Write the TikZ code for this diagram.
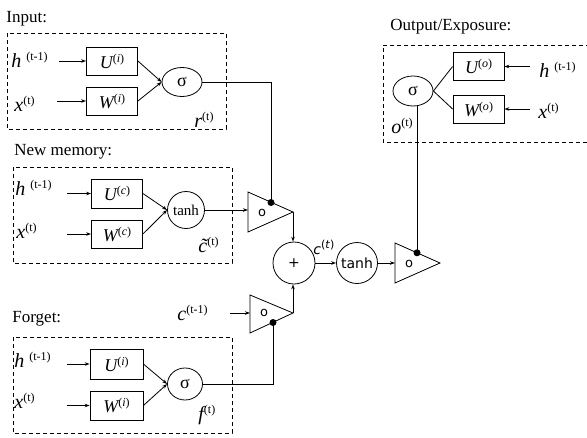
\documentclass[tikz,border=0pt]{standalone}
\usepackage{fontspec}
\setmainfont{Liberation Serif}
\newfontfamily\dvs{DejaVu Sans}
\usetikzlibrary{arrows.meta,shapes.geometric,calc}
\newcommand{\vsym}[2]{{\fontsize{20}{22}\selectfont\itshape #1}\raisebox{7pt}{\fontsize{12}{12}\selectfont #2}}
\newcommand{\wsym}[2]{{\fontsize{18}{20}\selectfont\itshape #1}\raisebox{6pt}{\fontsize{12}{12}\selectfont (\textit{#2})}}
\begin{document}
\begin{tikzpicture}[x=1pt,y=-1pt, line width=0.8pt,
 frame/.style={draw, dash pattern=on 4pt off 3pt, line width=0.9pt},
 wbox/.style={draw, rectangle, minimum width=51pt, minimum height=28pt, inner sep=0pt},
 gate/.style={draw, ellipse, inner sep=0pt, font=\fontsize{18}{18}\selectfont},
 tgate/.style={draw, circle, inner sep=0pt, font=\fontsize{15}{15}\selectfont},
 sgate/.style={draw, circle, inner sep=0pt, minimum size=41pt, font=\dvs\fontsize{14}{14}\selectfont},
 arr/.style={-{Stealth[length=5pt,width=3.5pt]}},
 txt/.style={inner sep=0pt, anchor=base west},
 title/.style={inner sep=0pt, anchor=base west, font=\fontsize{17}{19}\selectfont},
 dot/.style={fill, circle, inner sep=0pt, minimum size=7pt},
 olbl/.style={inner sep=0pt, font=\dvs\fontsize{13}{13}\selectfont},
 tri/.style={draw}
]
\useasboundingbox (0,0) rectangle (587,437);

% ---------- titles
\node[title] (lin) at (6,22) {Input:};
\node[title] (lmem) at (14,155) {New memory:};
\node[title] (lfor) at (12,322) {Forget:};
\node[title] (lout) at (390,30) {Output/Exposure:};

% ---------- dashed frames
\draw[frame] (7,33) rectangle (226,129);
\draw[frame] (13,167) rectangle (232,263);
\draw[frame] (13,337) rectangle (232,433);
\draw[frame] (590,45) -- (383,45) -- (383,142) -- (590,142);

% ---------- input gate
\node[txt] (h1) at (11,67) {\vsym{h}{\hspace{5pt}(t-1)}};
\node[txt] (x1) at (14,111) {\vsym{x}{(t)}};
\node[wbox] (U1) at (112,61) {\wsym{U}{i}};
\node[wbox] (W1) at (112,101) {\wsym{W}{i}};
\node[gate, minimum width=40pt, minimum height=29pt] (s1) at (182,82) {σ};
\node[txt] (rl) at (194,127) {\vsym{r}{(t)}};
\draw[arr] ($(U1.west)+(-27,0)$) -- (U1.west);
\draw[arr] ($(W1.west)+(-29,0)$) -- (W1.west);
\draw[arr] (U1.east) -- (s1.west);
\draw[arr] (W1.east) -- (s1.west);

% ---------- new memory
\node[txt] (h2) at (15,195) {\vsym{h}{\hspace{5pt}(t-1)}};
\node[txt] (x2) at (16,238) {\vsym{x}{(t)}};
\node[wbox, minimum height=29pt] (U2) at (117,193.5) {\wsym{U}{c}};
\node[wbox] (W2) at (117,234) {\wsym{W}{c}};
\node[tgate, minimum size=37pt] (th1) at (186,210) {tanh};
\node[txt] (cl) at (198,252) {\vsym{\~c}{(t)}};
\draw[arr] ($(U2.west)+(-24,0)$) -- (U2.west);
\draw[arr] ($(W2.west)+(-24,0)$) -- (W2.west);
\draw[arr] (U2.east) -- (th1.west);
\draw[arr] (W2.east) -- (th1.west);

% ---------- forget gate
\node[txt] (h3) at (14,367) {\vsym{h}{\hspace{5pt}(t-1)}};
\node[txt] (x3) at (14,408) {\vsym{x}{(t)}};
\node[wbox, minimum width=53pt, minimum height=30pt] (U3) at (116.5,364) {\wsym{U}{i}};
\node[wbox, minimum width=53pt, minimum height=29pt] (W3) at (116.5,405.5) {\wsym{W}{i}};
\node[gate, minimum width=35pt, minimum height=32pt] (s3) at (185,384) {σ};
\node[txt] (fl) at (198,420) {\vsym{f}{(t)}};
\draw[arr] ($(U3.west)+(-23,0)$) -- (U3.west);
\draw[arr] ($(W3.west)+(-23,0)$) -- (W3.west);
\draw[arr] (U3.east) -- (s3.west);
\draw[arr] (W3.east) -- (s3.west);

% ---------- output gate
\node[wbox] (U4) at (478.5,66.5) {\wsym{U}{o}};
\node[wbox] (W4) at (478.5,109) {\wsym{W}{o}};
\node[gate, minimum width=40pt, minimum height=30pt] (s4) at (413,91) {σ};
\node[txt] (h4) at (539,77) {\vsym{h}{\hspace{5pt}(t-1)}};
\node[txt] (x4) at (538,118) {\vsym{x}{(t)}};
\node[txt] (ol) at (391,133) {\vsym{o}{(t)}};
\draw[arr] ($(U4.east)+(26,0)$) -- (U4.east);
\draw[arr] ($(W4.east)+(26,0)$) -- (W4.east);
\draw (U4.west) -- (s4.east);
\draw (W4.west) -- (s4.east);

% ---------- multiplier triangles
\draw[tri] (248,192) -- (248,232) -- (293,212) -- cycle;
\coordinate (t1in) at (248,212);
\coordinate (t1out) at (293,212);
\node[olbl] (o1) at (262,213) {o};
\node[dot] (d1) at (271,202.5) {};

\draw[tri] (250,295) -- (250,333) -- (293,313) -- cycle;
\coordinate (t2in) at (250,313);
\coordinate (t2out) at (293,313);
\node[olbl] (o2) at (264,313) {o};
\node[dot] (d2) at (273,322.5) {};

\draw[tri] (395,243) -- (395,283) -- (440,263) -- cycle;
\coordinate (t3in) at (395,263);
\node[olbl] (o3) at (409,264) {o};
\node[dot] (d3) at (417,252.8) {};

% ---------- cell state
\node[sgate, minimum size=42pt] (plus) at (294,263) {+};
\node[sgate] (th2) at (357,263) {tanh};
\node[txt, font=\dvs\fontsize{14}{14}\selectfont] (ctl) at (313,254) {\textit{c}\raisebox{6pt}{\fontsize{11}{11}\selectfont(\textit{t})}};
\node[txt] (c0) at (177,320) {\vsym{c}{(t-1)}};

% ---------- connectors
\draw (s1.east) -| (d1.center);
\draw[arr] (th1.east) -- (th1.east -| t1in);
\draw[arr] (t1out) -- (t1out |- plus.north);
\draw[arr] ($(t2in)+(-20,0)$) -- (t2in);
\draw (s3.east) -| (d2.center);
\draw[arr] (t2out) -- (t2out |- plus.south);
\draw[arr] (plus.east) -- (th2.west);
\draw[arr] (th2.east) -- (t3in);
\draw (d3.center |- s4.south) -- (d3.center);
\end{tikzpicture}
\end{document}
